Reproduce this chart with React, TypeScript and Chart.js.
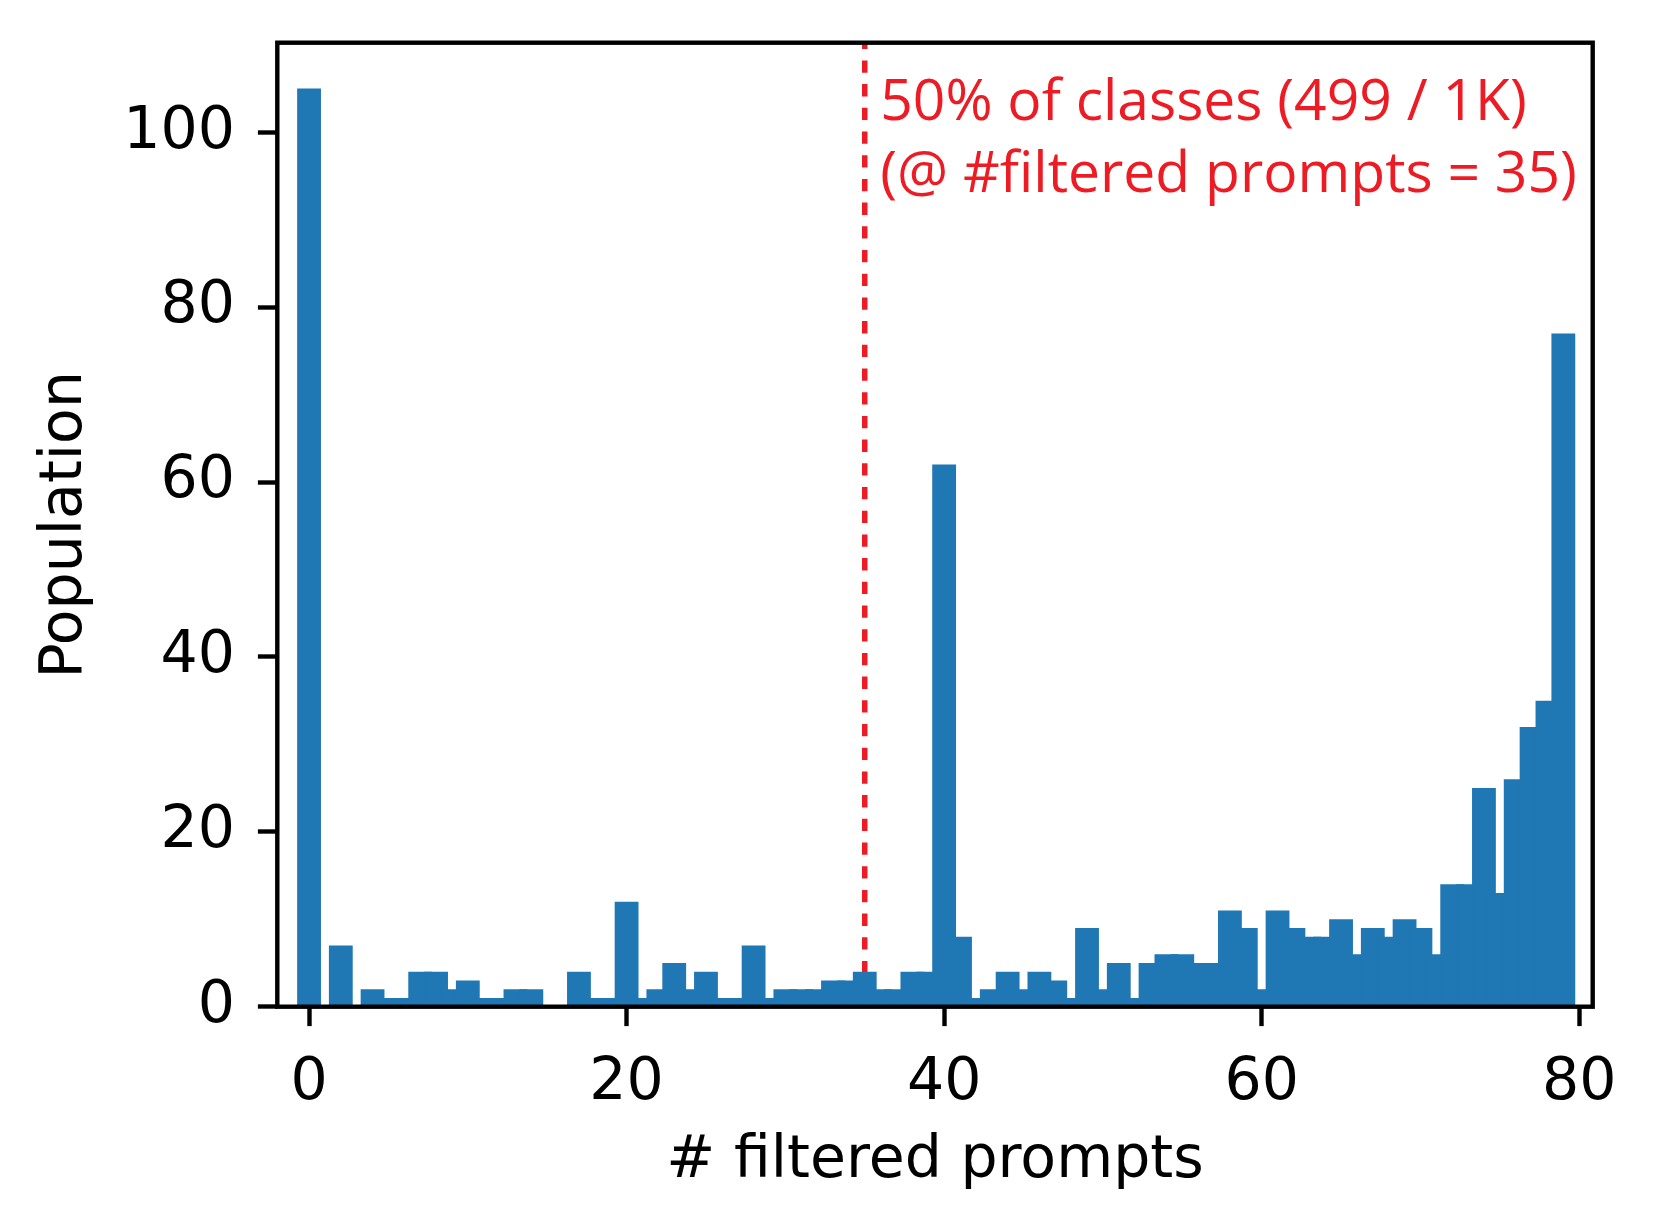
import React, { useEffect, useRef } from "react";
import { Chart, registerables } from "chart.js";

Chart.register(...registerables);

// ---- data ----
const PROMPT_COUNTS = [
  0, 1, 2, 3, 4, 5, 6, 7, 8, 9,
  10, 11, 12, 13, 14, 15, 16, 17, 18, 19,
  20, 21, 22, 23, 24, 25, 26, 27, 28, 29,
  30, 31, 32, 33, 34, 35, 36, 37, 38, 39,
  40, 41, 42, 43, 44, 45, 46, 47, 48, 49,
  50, 51, 52, 53, 54, 55, 56, 57, 58, 59,
  60, 61, 62, 63, 64, 65, 66, 67, 68, 69,
  70, 71, 72, 73, 74, 75, 76, 77, 78, 79,
];
const POPULATION = [
  105, 0, 7, 0, 2, 1, 1, 4, 4, 2,
  3, 1, 1, 2, 2, 0, 0, 4, 1, 1,
  12, 1, 2, 5, 2, 4, 1, 1, 7, 1,
  2, 2, 2, 3, 3, 4, 2, 2, 4, 4,
  62, 8, 1, 2, 4, 2, 4, 3, 1, 9,
  2, 5, 1, 5, 6, 6, 5, 5, 11, 9,
  2, 11, 9, 8, 8, 10, 6, 9, 8, 10,
  9, 6, 14, 14, 25, 13, 26, 32, 35, 77,
];
const X_TICKS = [0, 20, 40, 60, 80];
const Y_TICKS = [0, 20, 40, 60, 80, 100];
const THRESHOLD = 35;
const ANNOTATION_LINES = ["50% of classes (499 / 1K)", "(@ #filtered prompts = 35)"];
const X_TITLE = "# filtered prompts";
const Y_TITLE = "Population";

const BAR_COLOR = "#1f77b4";
const RED = "#ED1C24";
const AXIS_FONT = { family: "'DejaVu Sans'", size: 58.5 };
const SPINE_W = 4.4;

const overlayPlugin = {
  id: "overlay",
  beforeDatasetsDraw(chart: any) {
    const { ctx, chartArea, scales } = chart;
    const x = scales.x.getPixelForValue(THRESHOLD);
    ctx.save();
    ctx.strokeStyle = RED;
    ctx.lineWidth = 5.5;
    ctx.lineCap = "butt";
    ctx.setLineDash([12.3, 11.4]);
    ctx.lineDashOffset = 14;
    ctx.beginPath();
    ctx.moveTo(x, chartArea.bottom);
    ctx.lineTo(x, chartArea.top);
    ctx.stroke();
    ctx.restore();
  },
  afterDatasetsDraw(chart: any) {
    const { ctx, chartArea, scales } = chart;
    ctx.save();
    ctx.strokeStyle = "#000";
    ctx.lineWidth = SPINE_W;
    ctx.lineJoin = "miter";
    ctx.strokeRect(
      chartArea.left,
      chartArea.top,
      chartArea.right - chartArea.left,
      chartArea.bottom - chartArea.top
    );
    const x = scales.x.getPixelForValue(THRESHOLD) + 15.5;
    ctx.fillStyle = RED;
    ctx.font = "57px 'Open Sans'";
    ctx.textAlign = "left";
    ctx.textBaseline = "alphabetic";
    ctx.fillText(ANNOTATION_LINES[0], x, chartArea.top + 77);
    ctx.fillText(ANNOTATION_LINES[1], x, chartArea.top + 149);
    ctx.restore();
  },
};

export default function App() {
  const canvasRef = useRef<HTMLCanvasElement | null>(null);

  useEffect(() => {
    if (!canvasRef.current) return;
    const chart = new Chart(canvasRef.current, {
      type: "bar",
      data: {
        datasets: [
          {
            data: PROMPT_COUNTS.map((x, i) => ({ x, y: POPULATION[i] })),
            backgroundColor: BAR_COLOR,
            borderWidth: 0,
            barPercentage: 1.5,
            categoryPercentage: 1.0,
            grouped: false,
          } as any,
        ],
      },
      options: {
        responsive: false,
        animation: false,
        devicePixelRatio: 1,
        layout: { padding: { left: 0, top: 42.7, right: 66.3, bottom: 0 } },
        plugins: { legend: { display: false }, tooltip: { enabled: false } },
        scales: {
          x: {
            type: "linear",
            min: -2,
            max: 80.85,
            offset: false,
            afterBuildTicks: (s: any) => {
              s.ticks = X_TICKS.map((v) => ({ value: v }));
            },
            afterFit: (s: any) => {
              s.height = 223.3;
              s.paddingLeft = 0;
              s.paddingRight = 0;
            },
            grid: {
              display: true,
              offset: false,
              drawOnChartArea: false,
              drawTicks: true,
              tickLength: 19.4,
              tickWidth: SPINE_W,
              tickColor: "#000",
            },
            border: { display: false },
            ticks: {
              color: "#000",
              font: AXIS_FONT,
              padding: 22.5,
              maxRotation: 0,
              autoSkip: false,
            },
            title: {
              display: true,
              text: X_TITLE,
              color: "#000",
              font: AXIS_FONT,
              padding: { top: 0, bottom: 33 },
            },
          },
          y: {
            type: "linear",
            min: 0,
            max: 110.25,
            afterBuildTicks: (s: any) => {
              s.ticks = Y_TICKS.map((v) => ({ value: v }));
            },
            afterFit: (s: any) => {
              s.width = 277.3;
              s.paddingTop = 0;
              s.paddingBottom = 0;
            },
            grid: {
              display: true,
              drawOnChartArea: false,
              drawTicks: true,
              tickLength: 19.4,
              tickWidth: SPINE_W,
              tickColor: "#000",
            },
            border: { display: false },
            ticks: {
              color: "#000",
              font: AXIS_FONT,
              padding: 23,
              autoSkip: false,
            },
            title: {
              display: true,
              text: Y_TITLE,
              color: "#000",
              font: AXIS_FONT,
              padding: { top: 31, bottom: 0 },
            },
          },
        },
      } as any,
      plugins: [overlayPlugin],
    });
    return () => chart.destroy();
  }, []);

  return (
    <div
      style={{
        position: "absolute",
        left: 0,
        top: 0,
        width: 1659,
        height: 1230,
        background: "#fff",
      }}
    >
      <canvas ref={canvasRef} width={1659} height={1230} style={{ display: "block" }} />
    </div>
  );
}
